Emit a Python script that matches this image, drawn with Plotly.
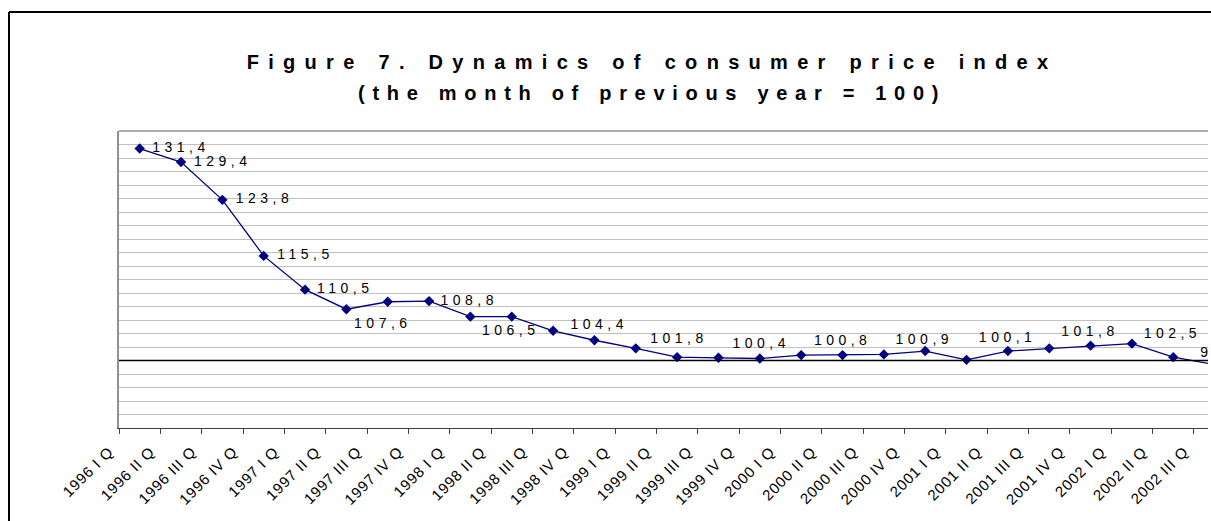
import plotly.graph_objects as go

# CPI by quarter, same quarter of previous year = 100
quarters = ["1996 I Q", "1996 II Q", "1996 III Q", "1996 IV Q",
            "1997 I Q", "1997 II Q", "1997 III Q", "1997 IV Q",
            "1998 I Q", "1998 II Q", "1998 III Q", "1998 IV Q",
            "1999 I Q", "1999 II Q", "1999 III Q", "1999 IV Q",
            "2000 I Q", "2000 II Q", "2000 III Q", "2000 IV Q",
            "2001 I Q", "2001 II Q", "2001 III Q", "2001 IV Q",
            "2002 I Q", "2002 II Q", "2002 III Q"]
cpi = [131.4, 129.4, 123.8, 115.5, 110.5, 107.6, 108.7, 108.8, 106.5, 106.5,
       104.4, 103.0, 101.8, 100.5, 100.4, 100.3, 100.8, 100.8, 100.9, 101.4,
       100.1, 101.4, 101.8, 102.2, 102.5, 100.5, 99.4]
base_level = 100

# which points carry a value label
labelled = [0, 1, 2, 3, 4, 5, 7, 8, 10, 12, 14, 16, 18, 20, 22, 24, 26]

# label offsets in pixels (right, down) - style only
label_dx = [12.6, 13, 13.4, 13.6, 12, 7.7, 11.4, 11.6, 17.4, 14.4, 14, 12.7, 11.7, 12.3, 12, 11.7, -14.4]
label_dy = [0, 0, 0, 0, 0, 15, 0, 15, -5.7, -9, -13.7, -13.6, -13.7, -21, -15.7, -9, -11.5]

W, H = 1211, 521
ml, mr, mt, mb = 119, 3, 131, 93
x_range = [-0.5, 25.84]
y_range = [90, 134]
px_x = (W - ml - mr) / (x_range[1] - x_range[0])
px_y = (H - mt - mb) / (y_range[1] - y_range[0])

navy = "#000080"
font = "Arial, Liberation Sans, sans-serif"

x = list(range(len(cpi)))

fig = go.Figure()
fig.add_trace(go.Scatter(x=x, y=cpi, mode="lines+markers",
                         line=dict(color=navy, width=1.3),
                         marker=dict(symbol="diamond", size=8, color=navy),
                         hoverinfo="skip"))

lx = [x[i] + dx / px_x for i, dx in zip(labelled, label_dx)]
ly = [cpi[i] - dy / px_y for i, dy in zip(labelled, label_dy)]
lt = [("%.1f" % cpi[i]).replace(".", ",") for i in labelled]
fig.add_trace(go.Scatter(x=lx, y=ly, mode="text", text=lt, textposition="middle right",
                         textfont=dict(family=font, size=14, color="black"),
                         cliponaxis=True, hoverinfo="skip"))

fig.update_xaxes(range=x_range, tickmode="array",
                 tickvals=[i - 0.5 for i in x], ticktext=quarters,
                 tickangle=-45, tickfont=dict(family=font, size=15, color="black"),
                 ticklabelstandoff=3, ticklabelshift=-10,
                 ticks="outside", ticklen=5, tickcolor="#404040",
                 showline=True, linecolor="#404040", linewidth=1,
                 showgrid=False, zeroline=False, automargin=False)
fig.update_yaxes(range=y_range, tick0=90, dtick=2, showticklabels=False,
                 showgrid=True, gridcolor="#c0c0c0", gridwidth=1,
                 showline=True, linecolor="#909090", linewidth=1.5,
                 zeroline=False, automargin=False)

def px2paper_x(p):
    return (p - ml) / (W - ml - mr)

def px2paper_y(p):
    return (H - mb - p) / (H - mt - mb)

# top border of plot area, line at 100, outer frame
fig.add_shape(type="line", xref="paper", yref="paper", x0=0, x1=1, y0=1, y1=1,
              line=dict(color="#909090", width=1.5))
fig.add_shape(type="line", xref="paper", yref="y", x0=0, x1=1, y0=base_level, y1=base_level,
              line=dict(color="black", width=1.3), layer="above")
fig.add_shape(type="line", xref="paper", yref="paper",
              x0=px2paper_x(9), x1=px2paper_x(1215), y0=px2paper_y(12), y1=px2paper_y(12),
              line=dict(color="black", width=2))
fig.add_shape(type="line", xref="paper", yref="paper",
              x0=px2paper_x(9), x1=px2paper_x(9), y0=px2paper_y(12), y1=px2paper_y(525),
              line=dict(color="black", width=2))

title_x = px2paper_x(652)
fig.add_annotation(text="<b>Figure 7. Dynamics of consumer price index</b>",
                   xref="paper", yref="paper", x=title_x, y=px2paper_y(62),
                   xanchor="center", yanchor="middle", showarrow=False,
                   font=dict(family=font, size=20, color="black"))
fig.add_annotation(text="<b>(the month of previous year = 100)</b>",
                   xref="paper", yref="paper", x=title_x, y=px2paper_y(93),
                   xanchor="center", yanchor="middle", showarrow=False,
                   font=dict(family=font, size=20, color="black"))

fig.update_layout(width=W, height=H, margin=dict(l=ml, r=mr, t=mt, b=mb),
                  paper_bgcolor="white", plot_bgcolor="white", showlegend=False)

# the source chart uses wide letter spacing for title and value labels
spacing_js = """
document.body.style.margin = '0';
var gd = document.getElementById('{plot_id}');
var titleSpacing = ['9.3px', '7.7px'];
gd.querySelectorAll('.annotation').forEach(function(g){
    var t = g.querySelector('.annotation-text');
    if (t) { t.style.letterSpacing = titleSpacing[+g.getAttribute('data-index')] || '8px'; }
});
gd.querySelectorAll('.textpoint text').forEach(function(t){ t.style.letterSpacing = '4.5px'; });
gd.querySelectorAll('.xtick text').forEach(function(t){ t.style.letterSpacing = '0.8px'; });
"""
fig.write_html("out.html", post_script=spacing_js, config={"displayModeBar": False})
